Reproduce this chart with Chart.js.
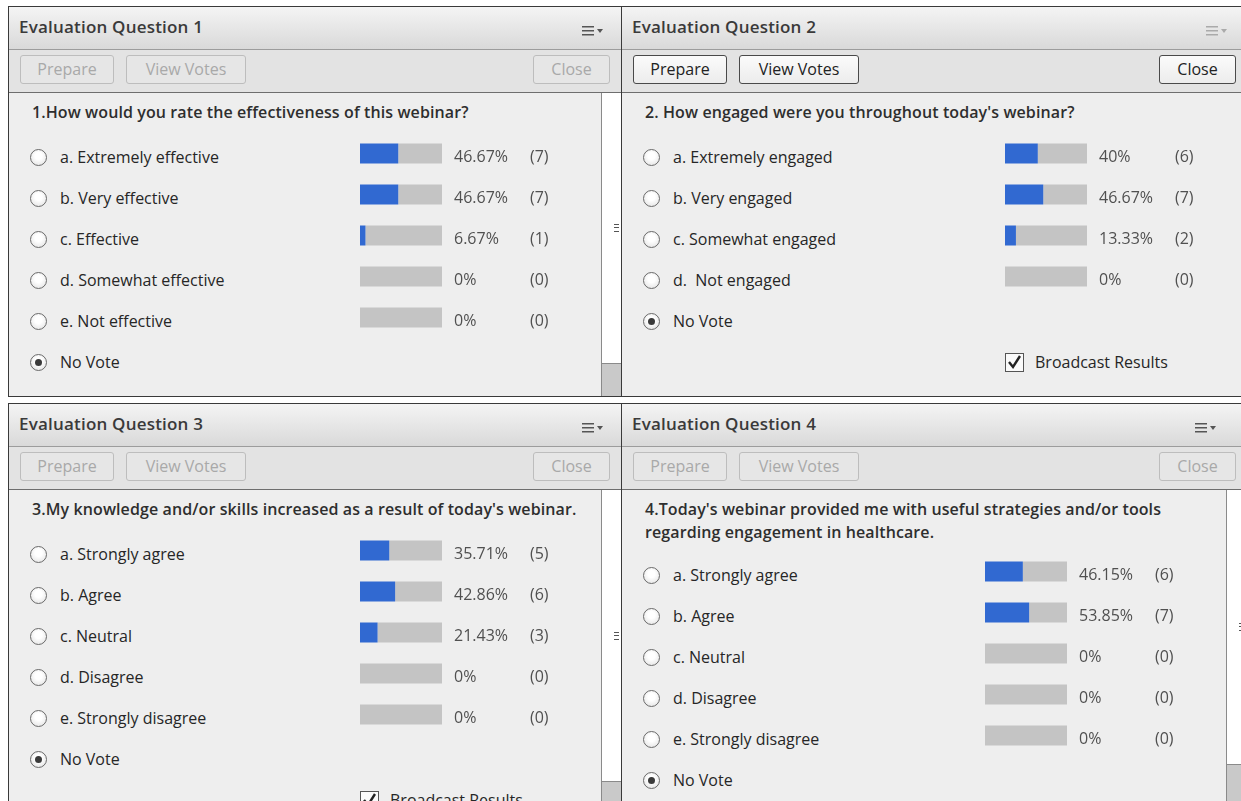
<!DOCTYPE html>
<html>
<head>
<meta charset="utf-8">
<script src="https://cdn.jsdelivr.net/npm/chart.js@4.4.0/dist/chart.umd.min.js"></script>
<style>
body { margin: 0; width: 1241px; height: 801px; overflow: hidden; position: relative; background: #fff; font-family: "Open Sans", sans-serif; color: #2a2a2a; }
.panel { position: absolute; border: 1px solid #3a3a3a; background: #eeeeee; overflow: hidden; }
.hdr { position: absolute; left: 0; right: 0; top: 0; height: 42px; background: linear-gradient(#f4f4f4, #d9d9d9); border-bottom: 1px solid #9c9c9c; }
.title { position: absolute; left: 10px; top: 8px; font-size: 17px; font-weight: 600; letter-spacing: 0.2px; color: #3a3a3a; white-space: nowrap; }
.menu { position: absolute; top: 13px; }
.bbar { position: absolute; left: 0; right: 0; top: 43px; height: 42px; background: #e3e3e3; border-bottom: 1px solid #6e6e6e; }
.btn { position: absolute; top: 5px; height: 27px; border: 1px solid #bdbdbd; border-radius: 3px; background: #e6e6e6; color: #a9a9a9; font-size: 16px; text-align: center; line-height: 27px; box-sizing: content-box; }
.btn.on { border-color: #4a4a4a; background: linear-gradient(#fbfbfb, #ececec); color: #222; }
.q { position: absolute; font-size: 16px; font-weight: 600; letter-spacing: 0.1px; color: #2e2e2e; white-space: pre; line-height: 23px; }
.opt { position: absolute; font-size: 16px; color: #262626; white-space: pre; line-height: 20px; }
.radio { position: absolute; width: 15px; height: 15px; border: 1px solid #6a6a6a; border-radius: 50%; background: radial-gradient(circle at 50% 40%, #ffffff 30%, #dedede 100%); }
.radio.on::after { content: ""; position: absolute; left: 4px; top: 4px; width: 7px; height: 7px; border-radius: 50%; background: #3a3a3a; }
.chk { position: absolute; width: 17px; height: 17px; border: 1px solid #555; background: #fafafa; }
.scroll { position: absolute; top: 86px; bottom: 0; background: #c9c9c9; border-left: 1px solid #8a8a8a; }
.thumb { position: absolute; left: 0; right: 0; top: 0; background: #ffffff; border-bottom: 1px solid #8a8a8a; }
.grip { position: absolute; left: 50%; width: 5px; margin-left: -3px; height: 6px; border-top: 1px solid #555; border-bottom: 1px solid #555; }
.grip::after { content: ""; position: absolute; left: 0; right: 0; top: 2px; height: 1px; background: #555; }
canvas { position: absolute; }
</style>
</head>
<body>
<script>
// poll data
const q1Options = ["a. Extremely effective", "b. Very effective", "c. Effective", "d. Somewhat effective", "e. Not effective"];
const q1Percent = [46.67, 46.67, 6.67, 0, 0];
const q1Votes = [7, 7, 1, 0, 0];

const q2Options = ["a. Extremely engaged", "b. Very engaged", "c. Somewhat engaged", "d.  Not engaged"];
const q2Percent = [40, 46.67, 13.33, 0];
const q2Votes = [6, 7, 2, 0];

const q3Options = ["a. Strongly agree", "b. Agree", "c. Neutral", "d. Disagree", "e. Strongly disagree"];
const q3Percent = [35.71, 42.86, 21.43, 0, 0];
const q3Votes = [5, 6, 3, 0, 0];

const q4Options = ["a. Strongly agree", "b. Agree", "c. Neutral", "d. Disagree", "e. Strongly disagree"];
const q4Percent = [46.15, 53.85, 0, 0, 0];
const q4Votes = [6, 7, 0, 0, 0];

const titles = ["Evaluation Question 1", "Evaluation Question 2", "Evaluation Question 3", "Evaluation Question 4"];
const questions = [
    ["1.How would you rate the effectiveness of this webinar?"],
    ["2. How engaged were you throughout today's webinar?"],
    ["3.My knowledge and/or skills increased as a result of today's webinar."],
    ["4.Today's webinar provided me with useful strategies and/or tools", "regarding engagement in healthcare."]
];

// layout of the four pods
const panels = [
    { x: 8, y: 6, w: 613, h: 389, opts: q1Options, pct: q1Percent, votes: q1Votes, active: false, menuOn: true,
      qy: 94, row0: 150, barX: 351, closeX: 524, broadcast: false, scroll: { x: 592, thumb: 270 } },
    { x: 621, y: 6, w: 630, h: 389, opts: q2Options, pct: q2Percent, votes: q2Votes, active: true, menuOn: false,
      qy: 94, row0: 150, barX: 383, closeX: 537, broadcast: true, scroll: null },
    { x: 8, y: 403, w: 613, h: 410, opts: q3Options, pct: q3Percent, votes: q3Votes, active: false, menuOn: true,
      qy: 94, row0: 150, barX: 351, closeX: 524, broadcast: true, scroll: { x: 592, thumb: 291 } },
    { x: 621, y: 403, w: 630, h: 410, opts: q4Options, pct: q4Percent, votes: q4Votes, active: false, menuOn: true,
      qy: 94, row0: 171, barX: 363, closeX: 537, broadcast: false, scroll: { x: 604, thumb: 274 } }
];

const ROW = 41;

function el(parent, cls, css, html) {
    var d = document.createElement("div");
    d.className = cls;
    Object.assign(d.style, css || {});
    if (html) d.innerHTML = html;
    parent.appendChild(d);
    return d;
}

function menuIcon(on) {
    var c = on ? "#555" : "#aaa";
    return '<svg width="22" height="12"><g fill="' + c + '">' +
        '<rect x="0" y="1" width="12" height="1.5"/><rect x="0" y="5" width="12" height="1.5"/><rect x="0" y="9" width="12" height="1.5"/>' +
        '<path d="M15 4 L21 4 L18 8 Z"/></g></svg>';
}

var valueLabels = {
    id: "valueLabels",
    afterDatasetsDraw: function(chart) {
        var ctx = chart.ctx;
        var meta = chart.getDatasetMeta(1);
        var pct = chart.data.datasets[0].data;
        var votes = chart.data.datasets[0].votes;
        ctx.save();
        ctx.font = '16px "Open Sans"';
        ctx.fillStyle = "#505050";
        ctx.textBaseline = "middle";
        meta.data.forEach(function(bar, i) {
            var x = chart.chartArea.right;
            ctx.fillText(pct[i] + "%", x + 12, bar.y + 4);
            ctx.fillText("(" + votes[i] + ")", x + 88, bar.y + 4);
        });
        ctx.restore();
    }
};

panels.forEach(function(p, k) {
    var pod = el(document.body, "panel", { left: p.x + "px", top: p.y + "px", width: p.w + "px", height: p.h + "px" });

    var hdr = el(pod, "hdr");
    el(hdr, "title", {}, titles[k]);
    el(hdr, "menu", { left: (p.menuOn ? 573 : 584) + "px" }, menuIcon(p.menuOn));

    var bb = el(pod, "bbar");
    var cls = p.active ? "btn on" : "btn";
    el(bb, cls, { left: "11px", width: "92px" }, "Prepare");
    el(bb, cls, { left: "117px", width: "118px" }, "View Votes");
    el(bb, cls, { left: p.closeX + "px", width: "75px" }, "Close");

    questions[k].forEach(function(line, j) {
        el(pod, "q", { left: "23px", top: (p.qy + j * 23) + "px" }, line);
    });

    var rows = p.opts.concat(["No Vote"]);
    rows.forEach(function(txt, i) {
        var cy = p.row0 + i * ROW;
        el(pod, i === rows.length - 1 ? "radio on" : "radio", { left: "21px", top: (cy - 8) + "px" });
        el(pod, "opt", { left: "51px", top: (cy - 10) + "px" }, txt);
    });

    if (p.broadcast) {
        var cy = p.row0 + rows.length * ROW;
        el(pod, "chk", { left: p.barX + "px", top: (cy - 9) + "px" },
            '<svg width="17" height="17"><path d="M3 8 L7 13 L14 2" stroke="#222" stroke-width="2.4" fill="none"/></svg>');
        el(pod, "opt", { left: (p.barX + 30) + "px", top: (cy - 10) + "px" }, "Broadcast Results");
    }

    if (p.scroll) {
        var sb = el(pod, "scroll", { left: p.scroll.x + "px", width: "30px" });
        var th = el(sb, "thumb", { height: p.scroll.thumb + "px" });
        el(th, "grip", { top: (p.scroll.thumb / 2 - 4) + "px" });
    }

    var cv = document.createElement("canvas");
    cv.width = 82 + 200;
    cv.height = ROW * p.opts.length;
    cv.style.left = p.barX + "px";
    cv.style.top = (p.row0 - 4 - ROW / 2) + "px";
    pod.appendChild(cv);

    new Chart(cv, {
        type: "bar",
        data: {
            labels: p.opts,
            datasets: [{
                data: p.pct,
                votes: p.votes,
                backgroundColor: "#3169d1",
                barThickness: 20,
                borderWidth: 0,
                inflateAmount: 0
            }, {
                data: p.pct.map(function(v) { return 100 - v; }),
                backgroundColor: "#c4c4c4",
                barThickness: 20,
                borderWidth: 0,
                inflateAmount: 0
            }]
        },
        options: {
            indexAxis: "y",
            responsive: false,
            animation: false,
            devicePixelRatio: 1,
            layout: { padding: { left: 0, right: 200, top: 0, bottom: 0 } },
            scales: {
                x: { stacked: true, min: 0, max: 100, display: false },
                y: { stacked: true, display: false }
            },
            plugins: {
                legend: { display: false },
                tooltip: { enabled: false }
            }
        },
        plugins: [valueLabels]
    });
});
</script>
</body>
</html>
